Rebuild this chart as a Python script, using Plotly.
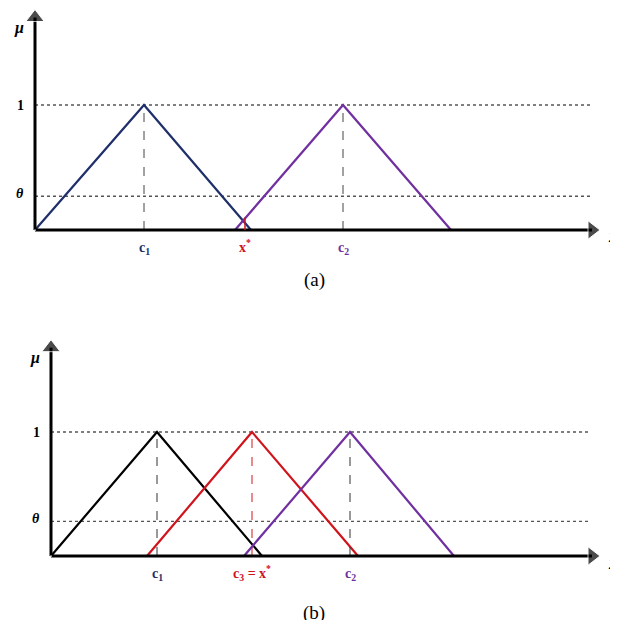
import plotly.graph_objects as go

# Panel (a) membership functions (x in axis units, mu)
a_blue_x = [0, 109, 216]
a_purple_x = [200, 308, 416]
tri_y = [0, 1, 0]
a_xstar = 210
a_xstar_mu = 0.1
a_theta = 0.27
a_xmax = 557
a_ymax = 1.7

# Panel (b)
b_black_x = [0, 106, 211]
b_red_x = [96, 201, 307]
b_purple_x = [193, 299, 403]
b_theta = 0.28
b_xmax = 541
b_ymax = 1.68

BLUE = "#1f2f6b"
PURPLE = "#7030a0"
RED = "#d0141c"
SERIF = "Liberation Serif, Times New Roman, serif"

fig = go.Figure()

def add_panel(xa, ya, tris, theta, xmax, ymax, dot_end):
    for yv in (1, theta):
        fig.add_trace(go.Scatter(x=[0, dot_end], y=[yv, yv], mode="lines",
                                 line=dict(color="#555", width=1.3, dash="dot"),
                                 xaxis=xa, yaxis=ya, hoverinfo="skip"))
    for xs, col, dcol in tris:
        fig.add_trace(go.Scatter(x=[xs[1], xs[1]], y=[0, 1], mode="lines",
                                 line=dict(color=dcol, width=1, dash="dash"),
                                 xaxis=xa, yaxis=ya, hoverinfo="skip"))
        fig.add_trace(go.Scatter(x=xs, y=tri_y, mode="lines",
                                 line=dict(color=col, width=2.2),
                                 xaxis=xa, yaxis=ya, hoverinfo="skip"))
    fig.add_trace(go.Scatter(x=[0, xmax], y=[0, 0], mode="lines+markers",
                             line=dict(color="black", width=3),
                             marker=dict(symbol=["circle", "triangle-right"], size=[1, 16], color="black"),
                             xaxis=xa, yaxis=ya, hoverinfo="skip"))
    fig.add_trace(go.Scatter(x=[0, 0], y=[0, ymax], mode="lines+markers",
                             line=dict(color="black", width=3),
                             marker=dict(symbol=["circle", "triangle-up"], size=[1, 16], color="black"),
                             xaxis=xa, yaxis=ya, hoverinfo="skip"))

add_panel("x", "y", [(a_blue_x, BLUE, "#444"), (a_purple_x, PURPLE, "#444")],
          a_theta, a_xmax, a_ymax, 556)
fig.add_trace(go.Scatter(x=[a_xstar, a_xstar], y=[0, a_xstar_mu], mode="lines",
                         line=dict(color=RED, width=1.5), xaxis="x", yaxis="y", hoverinfo="skip"))
add_panel("x2", "y2", [(b_black_x, "black", "#333"), (b_red_x, RED, RED), (b_purple_x, PURPLE, "#333")],
          b_theta, b_xmax, b_ymax, 540)

anns = []
def t(x, y, text, xr, yr, color="black", size=14, bold=True, italic=False, xanchor="center"):
    s = text
    if bold: s = "<b>" + s + "</b>"
    if italic: s = "<i>" + s + "</i>"
    anns.append(dict(x=x, y=y, xref=xr, yref=yr, text=s, showarrow=False,
                     font=dict(family=SERIF, size=size, color=color), xanchor=xanchor))

t(-9, 1, "1", "x", "y", xanchor="right")
t(-9, a_theta + 0.02, "θ", "x", "y", italic=True, xanchor="right")
t(-9, 1.62, "μ", "x", "y", italic=True, xanchor="right", size=16)
t(578, -0.05, "x", "x", "y", italic=True, size=18)
t(a_blue_x[1], -0.15, "c<sub>1</sub>", "x", "y", color=BLUE)
t(a_purple_x[1], -0.15, "c<sub>2</sub>", "x", "y", color=PURPLE)
t(a_xstar, -0.13, "x<sup>*</sup>", "x", "y", color=RED)
t(279, -0.4, "(a)", "x", "y", bold=False, size=19)

t(-9, 1, "1", "x2", "y2", xanchor="right")
t(-9, b_theta + 0.02, "θ", "x2", "y2", italic=True, xanchor="right")
t(-9, 1.6, "μ", "x2", "y2", italic=True, xanchor="right", size=16)
t(562, -0.06, "x", "x2", "y2", italic=True, size=18)
t(b_black_x[1], -0.15, "c<sub>1</sub>", "x2", "y2", color=BLUE)
t(b_purple_x[1], -0.15, "c<sub>2</sub>", "x2", "y2", color=PURPLE)
t(b_red_x[1], -0.14, "c<sub>3</sub> = x<sup>*</sup>", "x2", "y2", color=RED)
t(263, -0.46, "(b)", "x2", "y2", bold=False, size=19)

ax = dict(showgrid=False, zeroline=False, showticklabels=False, ticks="", showline=False)
fig.update_layout(
    width=618, height=620, margin=dict(l=0, r=0, t=0, b=0),
    plot_bgcolor="white", paper_bgcolor="white", showlegend=False,
    xaxis=dict(ax, domain=[0, 1], range=[-27, 591]),
    yaxis=dict(ax, domain=[0.5, 1], range=[(222 - 310) / 125, 222 / 125]),
    xaxis2=dict(ax, domain=[0, 1], range=[-43, 575], anchor="y2"),
    yaxis2=dict(ax, domain=[0, 0.5], range=[(548 - 620) / 124, (548 - 310) / 124], anchor="x2"),
    annotations=anns,
)
fig.write_html("out.html")
